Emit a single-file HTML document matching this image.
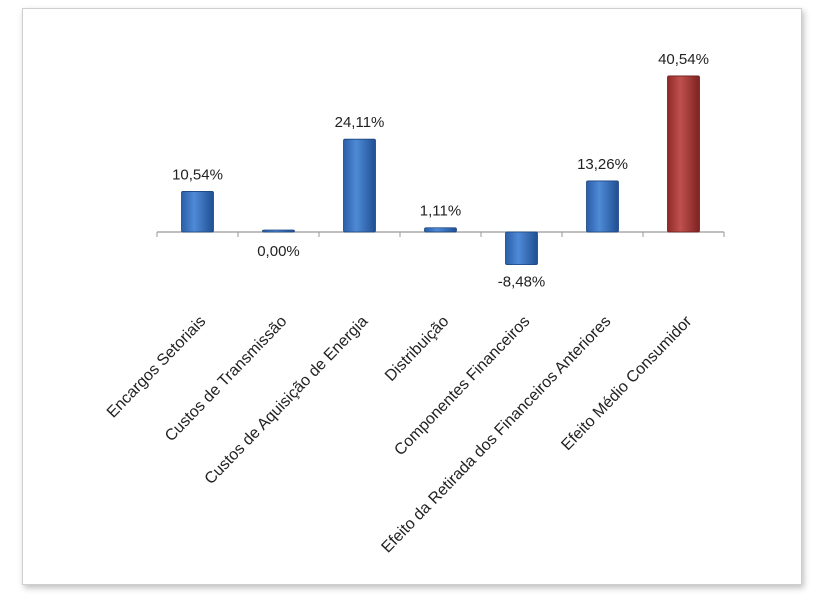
<!DOCTYPE html>
<html><head><meta charset="utf-8"><style>
body{margin:0;background:#fff;}
#wrap{position:relative;width:822px;height:600px;}
#frame{position:absolute;left:22px;top:8px;width:778px;height:575px;border:1px solid #cfcfcf;box-shadow:2px 3px 6px rgba(0,0,0,0.25);background:#fff;}
svg{position:absolute;left:0;top:0;}
text{font-family:"Liberation Sans",sans-serif;fill:#222;}
</style></head><body>
<div id="wrap">
<div id="frame"></div>
<svg id="chart" width="822" height="600">
<defs>
<linearGradient id="gb" x1="0" x2="1" y1="0" y2="0"><stop offset="0" stop-color="#2a5ea8"/><stop offset="0.4" stop-color="#4f8ad6"/><stop offset="1" stop-color="#1f4f93"/></linearGradient>
<linearGradient id="gr" x1="0" x2="1" y1="0" y2="0"><stop offset="0" stop-color="#8e2a28"/><stop offset="0.4" stop-color="#c0504d"/><stop offset="1" stop-color="#7d2220"/></linearGradient>
</defs>
</svg>
</div>
<script>
const categories=["Encargos Setoriais","Custos de Transmissão","Custos de Aquisição de Energia","Distribuição","Componentes Financeiros","Efeito da Retirada dos Financeiros Anteriores","Efeito Médio Consumidor"];
const values=[10.54,0.00,24.11,1.11,-8.48,13.26,40.54];
const valueLabels=["10,54%","0,00%","24,11%","1,11%","-8,48%","13,26%","40,54%"];
const NS="http://www.w3.org/2000/svg";
const svg=document.getElementById('chart');
const x0=157,step=81,y0=232,k=3.85,bw=32;
const xc=i=>x0+step*(i+0.5);
const y=v=>y0-v*k;
function mk(t,a){const e=document.createElementNS(NS,t);for(const n in a)e.setAttribute(n,a[n]);svg.appendChild(e);return e;}
const ax=mk('line',{x1:x0,x2:x0+step*categories.length,y1:y0,y2:y0,stroke:'#999','stroke-width':1.2});


for(let i=0;i<=categories.length;i++){
 const t=mk('line',{x1:x0+step*i,x2:x0+step*i,y1:y0,y2:y0+5,stroke:'#999'});
 
 
}
values.forEach((v,i)=>{
 const h=Math.max(Math.abs(v)*k,2);
 const top=v>=0?y(v):y0;
 const r=mk('rect',{x:xc(i)-bw/2,y:v>=0?top-(h-Math.abs(v)*k):top,width:bw,height:h,fill:i===values.length-1?'url(#gr)':'url(#gb)',stroke:i===values.length-1?'#6e1f1d':'#1c4680','stroke-width':0.8,rx:1.5});
 
 
 const ly=v>0.5?y(v)-12:(v<0?y(v)+22:y0+24);
 const l=mk('text',{x:xc(i),y:ly,'text-anchor':'middle','font-size':15});
 l.textContent=valueLabels[i];
 
 
 const ax2=xc(i)+9, ay=322;
 const c=mk('text',{x:ax2,y:ay,'text-anchor':'end','font-size':16,transform:`rotate(-46 ${ax2} ${ay})`});
 c.textContent=categories[i];
 
 
});
</script>
</body></html>
